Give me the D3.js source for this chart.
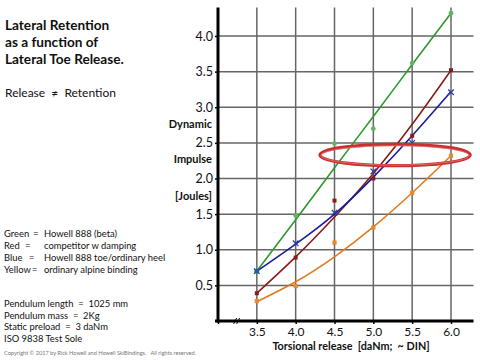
<!DOCTYPE html>
<html><head><meta charset="utf-8">
<script src="https://cdn.jsdelivr.net/npm/d3@7"></script>
<style>
html,body{margin:0;padding:0;background:#fff;}
svg{display:block;}
text{font-family:Lato,"Open Sans",sans-serif;fill:#111;white-space:pre;}
</style></head>
<body><svg id="c" width="480" height="362"></svg>
<script>
const releases = [3.5, 4.0, 4.5, 5.0, 5.5, 6.0];
const greenPts  = [0.70, 1.48, 2.49, 2.70, 3.62, 4.32];
const redPts    = [0.39, 0.89, 1.69, 2.00, 2.60, 3.52];
const bluePts   = [0.70, 1.09, 1.52, 2.10, 2.50, 3.21];
const yellowPts = [0.28, 0.49, 1.10, 1.31, 1.80, 2.32];
const greenFit  = [0.70, 1.42, 2.15, 2.87, 3.60, 4.32];
const redFit    = [0.39, 0.90, 1.46, 2.07, 2.76, 3.52];
const blueFit   = [0.70, 1.08, 1.50, 2.02, 2.60, 3.22];
const yellowFit = [0.27, 0.55, 0.90, 1.32, 1.80, 2.32];
const xTicks = [3.5, 4.0, 4.5, 5.0, 5.5, 6.0];
const yTicks = [0.5, 1.0, 1.5, 2.0, 2.5, 3.0, 3.5, 4.0];
const titleLines = ["Lateral Retention", "as a function of", "Lateral Toe Release."];
const legendRows = [
  ["Green", "=", "Howell 888 (beta)"],
  ["Red", "=", "competitor w damping"],
  ["Blue", "=", "Howell 888 toe/ordinary heel"],
  ["Yellow", "=", "ordinary alpine binding"]
];
const testRows = ["Pendulum length  =  1025 mm", "Pendulum mass  =  2Kg", "Static preload  =  3 daNm", "ISO 9838 Test Sole"];

const svg = d3.select("#c");
const x = d3.scaleLinear().domain([3.0, 6.0]).range([218, 451]);
const y = d3.scaleLinear().domain([0, 4.4]).range([321, 7.5]);

// grid
const g = svg.append("g");
g.selectAll(".vg").data(xTicks).join("line")
  .attr("x1", d => x(d)).attr("x2", d => x(d)).attr("y1", y(4.4)).attr("y2", y(0))
  .attr("stroke", "#666").attr("stroke-width", 1.5);
g.selectAll(".hg").data(yTicks).join("line")
  .attr("x1", x(3.0)).attr("x2", x(6.29)).attr("y1", d => y(d)).attr("y2", d => y(d))
  .attr("stroke", "#666").attr("stroke-width", 1.5);

// axes
const yAxis = d3.axisLeft(y).tickValues(yTicks).tickFormat(d3.format(".1f")).tickSize(3).tickPadding(2);
const ay = svg.append("g").attr("transform", `translate(${x(3.0)},0)`).call(yAxis);
ay.select(".domain").remove();
ay.selectAll(".tick line").attr("stroke", "#000").attr("stroke-width", 1.5);
ay.selectAll(".tick text").attr("font-family", "Lato").attr("font-size", 12.5).attr("fill", "#111");
svg.append("line").attr("x1", x(3.0)).attr("x2", x(3.0)).attr("y1", y(4.4)).attr("y2", y(0) + 1.5)
  .attr("stroke", "#000").attr("stroke-width", 3);

const xAxis = d3.axisBottom(x).tickValues([3.0].concat(xTicks)).tickFormat(d => d === 3.0 ? "" : d3.format(".1f")(d)).tickSize(3).tickPadding(3);
const ax = svg.append("g").attr("transform", `translate(0,${y(0)})`).call(xAxis);
ax.select(".domain").remove();
ax.selectAll(".tick line").attr("stroke", "#000").attr("stroke-width", 1.5);
ax.selectAll(".tick text").attr("font-family", "Lato").attr("font-size", 12).attr("fill", "#111");
svg.append("line").attr("x1", x(3.0) - 3).attr("x2", x(6.29)).attr("y1", y(0)).attr("y2", y(0))
  .attr("stroke", "#000").attr("stroke-width", 3);
// axis break mark
const bx = x(3.24), by = y(0);
[-1.5, 1.5].forEach(o => svg.append("line").attr("x1", bx + o - 1.5).attr("x2", bx + o + 1.5)
  .attr("y1", by + 3).attr("y2", by - 3).attr("stroke", "#000").attr("stroke-width", 1));

svg.append("text").attr("x", 351).attr("y", 349.5).attr("text-anchor", "middle")
  .attr("font-weight", "bold").attr("font-size", 10.8).text("Torsional release  [daNm;  ~ DIN]");
[["Dynamic", 128], ["Impulse", 163], ["[Joules]", 200]].forEach(([t, yy]) =>
  svg.append("text").attr("x", 212).attr("y", yy).attr("text-anchor", "end")
    .attr("font-weight", "bold").attr("font-size", 11).text(t));

// series
const series = [
  {pts: greenPts, fit: greenFit, line: "#2b9a2b", mark: "#5fb85f", sym: d3.symbolCircle, size: 18},
  {pts: redPts, fit: redFit, line: "#8b1a1a", mark: "#8b1a1a", sym: d3.symbolSquare, size: 16},
  {pts: yellowPts, fit: yellowFit, line: "#e07a1f", mark: "#e8892a", sym: d3.symbolSquare, size: 18},
  {pts: bluePts, fit: blueFit, line: "#1c1c9c", mark: "#2a3aa8", sym: d3.symbolTimes, size: 22}
];
const lineGen = d3.line().x((d, i) => x(releases[i])).y(d => y(d)).curve(d3.curveNatural);
series.forEach(s => {
  svg.append("path").attr("d", lineGen(s.fit)).attr("fill", "none")
    .attr("stroke", s.line).attr("stroke-width", 1.6);
});
series.forEach(s => {
  svg.append("g").selectAll("path").data(s.pts).join("path")
    .attr("transform", (d, i) => `translate(${x(releases[i])},${y(d)})`)
    .attr("d", d3.symbol().type(s.sym).size(s.size))
    .attr("fill", s.mark).attr("stroke", s.sym === d3.symbolTimes ? s.mark : "none")
    .attr("stroke-width", 1.3);
});
// blue square at first point (shared)
svg.append("path").attr("transform", `translate(${x(releases[0])},${y(bluePts[0])})`)
  .attr("d", d3.symbol().type(d3.symbolSquare).size(20)).attr("fill", "#1f5f8f");

// highlight ellipse
const ecx = x(5.28), ecy = y(2.33), erx = x(5.28) - x(4.313), ery = y(2.18) - y(2.33);
svg.append("ellipse").attr("cx", ecx).attr("cy", ecy).attr("rx", erx).attr("ry", ery)
  .attr("fill", "none").attr("stroke", "#c9302f").attr("stroke-width", 3.2);
svg.append("ellipse").attr("cx", ecx).attr("cy", ecy + 0.5).attr("rx", erx - 1).attr("ry", ery - 1)
  .attr("fill", "none").attr("stroke", "#e88a8a").attr("stroke-width", 0.8).attr("opacity", 0.8);

// left texts
svg.selectAll(".tl").data(titleLines).join("text")
  .attr("x", 5).attr("y", (d, i) => 30 + i * 16.8).attr("font-weight", "bold").attr("font-size", 13.6).text(d => d);
svg.append("text").attr("x", 5).attr("y", 97).attr("font-size", 12).text("Release  \u2260  Retention");

const eqX = [33, 25, 29, 32];
legendRows.forEach((r, i) => {
  const yy = 237 + i * 12;
  svg.append("text").attr("x", 4).attr("y", yy).attr("font-size", 9.4).text(r[0]);
  svg.append("text").attr("x", eqX[i]).attr("y", yy).attr("font-size", 9.4).text(r[1]);
  svg.append("text").attr("x", 44).attr("y", yy).attr("font-size", 9.4).text(r[2]);
});
testRows.forEach((t, i) => {
  svg.append("text").attr("x", 4).attr("y", 307 + i * 11.6).attr("font-size", 9.4).text(t);
});
svg.append("text").attr("x", 4).attr("y", 355).attr("font-size", 5.6)
  .style("fill", "#777").text("Copyright \u00a9 2017 by Rick Howell and Howell SkiBindings.   All rights reserved.");
</script></body></html>
